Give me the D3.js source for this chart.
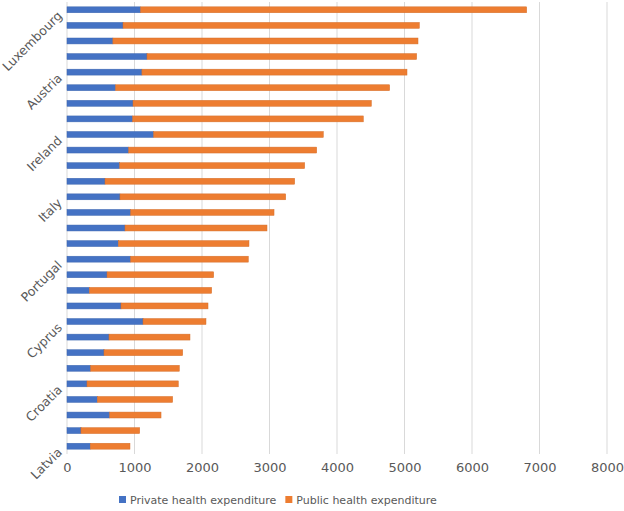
<!DOCTYPE html>
<html>
<head>
<meta charset="utf-8">
<script src="https://cdn.jsdelivr.net/npm/d3@7"></script>
<style>
  body { margin: 0; background: #fff; }
  text { font-family: "DejaVu Sans", sans-serif; fill: #595959; }
</style>
</head>
<body>
<div id="chart"></div>
<script>
// countries, sorted by total health expenditure (only every 4th is labelled on the axis)
const countries = ["Luxembourg", "Germany", "Netherlands", "Sweden", "Austria", "Denmark", "Belgium", "France",
    "Ireland", "Finland", "United Kingdom", "Malta", "Italy", "Spain", "Czechia", "Slovenia",
    "Portugal", "Lithuania", "Estonia", "Greece", "Cyprus", "Slovakia", "Hungary", "Poland",
    "Croatia", "Bulgaria", "Romania", "Norway", "Latvia"];

const privateSpend = [1090, 830, 680, 1185, 1110, 720, 978, 973,
    1284, 914, 780, 563, 785, 943, 859, 760,
    943, 593, 331, 800, 1126, 622, 548, 351,
    296, 449, 632, 207, 345];

const publicSpend = [5720, 4390, 4520, 3995, 3927, 4060, 3531, 3417,
    2513, 2785, 2741, 2810, 2455, 2124, 2104, 1936,
    1743, 1580, 1812, 1289, 933, 1200, 1166, 1313,
    1353, 1116, 761, 870, 588];

const xTicks = [0, 1000, 2000, 3000, 4000, 5000, 6000, 7000, 8000];
const seriesNames = ["Private health expenditure", "Public health expenditure"];
const colors = ["#4472c4", "#ed7d31"];

const margin = { top: 2, right: 17, bottom: 57, left: 67 };
const width = 624 - margin.left - margin.right,
    height = 511 - margin.top - margin.bottom;

const rows = countries.map(function (c, i) {
    return { country: c, priv: privateSpend[i], pub: publicSpend[i] };
});

const stack = d3.stack().keys(["priv", "pub"])(rows);

const svg = d3.select("#chart").append("svg")
    .attr("width", 624)
    .attr("height", 511)
    .append("g")
    .attr("transform", "translate(" + margin.left + "," + margin.top + ")");

const x = d3.scaleLinear().domain([0, 8000]).range([0, width]);
const y = d3.scaleBand().domain(countries).range([0, height]).paddingInner(0.62).paddingOuter(0.31);

// gridlines
svg.append("g")
    .selectAll("line")
    .data(xTicks)
    .join("line")
    .attr("x1", d => x(d)).attr("x2", d => x(d))
    .attr("y1", 0).attr("y2", height)
    .attr("stroke", "#d9d9d9")
    .attr("stroke-width", 1);

// bars
svg.append("g")
    .selectAll("g")
    .data(stack)
    .join("g")
    .attr("fill", (d, i) => colors[i])
    .attr("stroke", (d, i) => d3.color(colors[i]).darker(0.3))
    .attr("stroke-width", 0.5)
    .selectAll("rect")
    .data(d => d)
    .join("rect")
    .attr("x", d => x(d[0]))
    .attr("y", d => y(d.data.country))
    .attr("width", d => x(d[1]) - x(d[0]))
    .attr("height", y.bandwidth());

// x axis
const xAxis = svg.append("g")
    .attr("transform", "translate(0," + height + ")")
    .call(d3.axisBottom(x).tickValues(xTicks).tickFormat(d3.format("d")).tickSize(0).tickPadding(9));
xAxis.select(".domain").remove();
xAxis.selectAll("text")
    .style("font-size", "13px")
    .style("font-family", "DejaVu Sans, sans-serif")
    .attr("fill", "#595959");

// y axis, every 4th country
const yAxis = svg.append("g")
    .call(d3.axisLeft(y).tickValues(countries.filter((d, i) => i % 4 === 0)).tickSize(0).tickPadding(0));
yAxis.select(".domain").remove();
yAxis.selectAll("text")
    .style("font-size", "12.5px")
    .style("font-family", "DejaVu Sans, sans-serif")
    .attr("fill", "#595959")
    .attr("text-anchor", "end")
    .attr("transform", "translate(-7,4)rotate(-45)");

// legend
const legend = svg.append("g")
    .attr("transform", "translate(" + (119 - margin.left) + "," + (500 - margin.top) + ")");

let lx = 0;
seriesNames.forEach(function (name, i) {
    const g = legend.append("g").attr("transform", "translate(" + lx + ",0)");
    g.append("rect")
        .attr("x", 0).attr("y", -4)
        .attr("width", 7).attr("height", 7)
        .attr("fill", colors[i]);
    const t = g.append("text")
        .attr("x", 11).attr("y", 0)
        .attr("dy", "0.35em")
        .style("font-size", "11px")
        .text(name);
    lx += 11 + t.node().getComputedTextLength() + 9;
});
</script>
</body>
</html>
